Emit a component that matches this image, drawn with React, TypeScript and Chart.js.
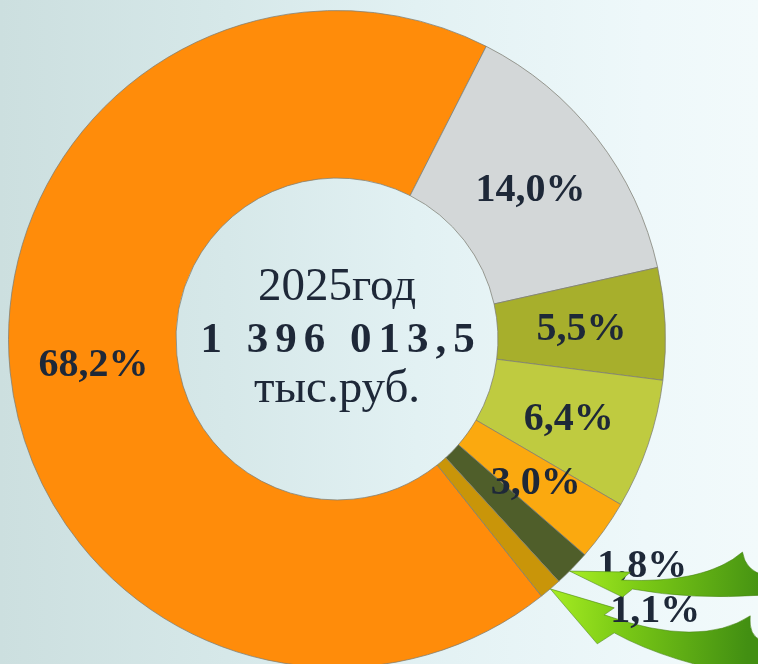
import React, { useEffect, useRef } from "react";
import { Chart, registerables } from "chart.js";

Chart.register(...registerables);

// ---- data ----
const segmentNames = [
  "Сегмент 1",
  "Сегмент 2",
  "Сегмент 3",
  "Сегмент 4",
  "Сегмент 5",
  "Сегмент 6",
  "Сегмент 7",
];
const shares = [68.2, 14.0, 5.5, 6.4, 3.0, 1.8, 1.1];
const segmentColors = [
  "#FF8C0A",
  "#D3D7D8",
  "#A7AF2C",
  "#BFCB40",
  "#FBA90F",
  "#4F5E2A",
  "#C99509",
];
const centerYear = "2025год";
const centerTotal = "1 396 013,5";
const centerUnit = "тыс.руб.";

const fmtPct = (v: number) => v.toFixed(1).replace(".", ",") + "%";

type Pt = [number, number];
type Seg = { t: "L"; p: Pt } | { t: "Q"; c: Pt; p: Pt };

// arrow outlines, relative to the arrow tip
const arrowA: Seg[] = [
  { t: "L", p: [61, 1] },
  { t: "L", p: [52, 9] },
  { t: "Q", c: [136, 13], p: [173, -19] },
  { t: "Q", c: [176, 0], p: [195, 4] },
  { t: "L", p: [195, 24] },
  { t: "Q", c: [121, 29], p: [63, 18] },
  { t: "L", p: [53, 26] },
];
const arrowB: Seg[] = [
  { t: "L", p: [64, 19] },
  { t: "L", p: [54, 26] },
  { t: "Q", c: [150, 60], p: [200, 27] },
  { t: "Q", c: [198, 47], p: [212, 52] },
  { t: "L", p: [212, 90] },
  { t: "Q", c: [118, 74], p: [64, 44] },
  { t: "L", p: [47, 55] },
];

function drawArrow(ctx: CanvasRenderingContext2D, tx: number, ty: number, segs: Seg[]) {
  ctx.save();
  ctx.beginPath();
  ctx.moveTo(tx, ty);
  for (const s of segs) {
    if (s.t === "L") ctx.lineTo(tx + s.p[0], ty + s.p[1]);
    else ctx.quadraticCurveTo(tx + s.c[0], ty + s.c[1], tx + s.p[0], ty + s.p[1]);
  }
  ctx.closePath();
  const g = ctx.createLinearGradient(tx, ty, tx + 200, ty + 10);
  g.addColorStop(0, "#A6EC22");
  g.addColorStop(0.35, "#7CCB16");
  g.addColorStop(1, "#428F12");
  ctx.fillStyle = g;
  ctx.fill();
  ctx.lineWidth = 0.8;
  ctx.strokeStyle = "rgba(70,130,20,0.7)";
  ctx.stroke();
  ctx.restore();
}

const labelPlugin = {
  id: "sliceLabels",
  afterDatasetsDraw(chart: any, _args: any, opts: any) {
    const ctx: CanvasRenderingContext2D = chart.ctx;
    const meta = chart.getDatasetMeta(0);
    const arcs = meta.data.map((a: any) =>
      a.getProps(["x", "y", "startAngle", "endAngle", "innerRadius", "outerRadius"], true)
    );
    const cx = arcs[0].x;
    const cy = arcs[0].y;
    const R = arcs[0].outerRadius;

    // center text
    ctx.save();
    ctx.fillStyle = opts.color;
    ctx.textAlign = "center";
    ctx.textBaseline = "alphabetic";
    ctx.font = '47px "Liberation Serif"';
    ctx.fillText(centerYear, cx, cy - 39);
    ctx.font = 'bold 43px "Liberation Serif"';
    (ctx as any).letterSpacing = "7px";
    ctx.fillText(centerTotal, cx + 4, cy + 13);
    (ctx as any).letterSpacing = "0px";
    ctx.font = '47px "Liberation Serif"';
    ctx.fillText(centerUnit, cx, cy + 63);
    ctx.restore();

    const tipOf = (i: number, frac: number) => {
      const a = arcs[i];
      const ang = a.startAngle + (a.endAngle - a.startAngle) * frac;
      return [a.x + a.outerRadius * Math.cos(ang), a.y + a.outerRadius * Math.sin(ang)];
    };

    // lower arrow (under labels)
    const tb = tipOf(6, 0.5);
    drawArrow(ctx, tb[0], tb[1], arrowB);

    // slice labels
    ctx.save();
    ctx.fillStyle = opts.color;
    ctx.font = 'bold 40px "Liberation Serif"';
    ctx.textAlign = "center";
    ctx.textBaseline = "middle";
    arcs.forEach((a: any, i: number) => {
      const out = opts.outside[i];
      let x: number, y: number;
      if (out) {
        const ang = ((out[0] - 90) * Math.PI) / 180;
        x = cx + R * out[1] * Math.cos(ang);
        y = cy + R * out[1] * Math.sin(ang);
      } else {
        const mid = (a.startAngle + a.endAngle) / 2;
        const r = (a.innerRadius + a.outerRadius) / 2;
        x = a.x + r * Math.cos(mid);
        y = a.y + r * Math.sin(mid);
      }
      ctx.fillText(fmtPct(shares[i]), x, y + 2);
    });
    ctx.restore();

    // upper arrow (over its label)
    const ta = tipOf(5, 0.6);
    drawArrow(ctx, ta[0], ta[1], arrowA);
  },
};

export default function App() {
  const ref = useRef<HTMLCanvasElement>(null);
  useEffect(() => {
    const chart = new Chart(ref.current as HTMLCanvasElement, {
      type: "doughnut",
      data: {
        labels: segmentNames,
        datasets: [
          {
            data: shares,
            backgroundColor: segmentColors,
            borderColor: "rgba(125,125,115,0.75)",
            borderWidth: 1,
          },
        ],
      },
      options: {
        responsive: false,
        animation: false,
        rotation: 141.5,
        cutout: "49%",
        layout: { padding: { left: 8, right: 92, top: 10, bottom: 12 } },
        plugins: {
          legend: { display: false },
          tooltip: { enabled: false },
          sliceLabels: {
            color: "#1E2838",
            outside: { 5: [126.5, 1.156], 6: [130.4, 1.272] },
          },
        } as any,
      },
      plugins: [labelPlugin],
    });
    return () => chart.destroy();
  }, []);

  return (
    <div
      style={{
        position: "fixed",
        left: 0,
        top: 0,
        width: 758,
        height: 664,
        overflow: "hidden",
        background:
          "linear-gradient(90deg, #CCDFDF 0%, #D6E8E9 30%, #E2F1F3 55%, #EEF8FA 85%, #F2FAFB 100%)",
      }}
    >
      <canvas ref={ref} width={758} height={680} style={{ display: "block" }} />
    </div>
  );
}
